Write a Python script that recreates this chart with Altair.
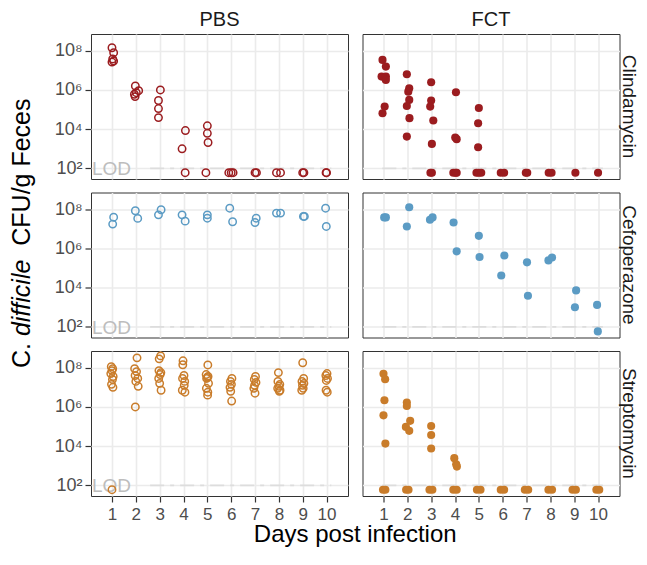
import altair as alt
import pandas as pd

# ---------------- data (log10 CFU/g feces; jittered day positions) ----------------
L = 1.78          # samples below detection are drawn at the floor
LOD_LOG = 2       # limit of detection = 10^2
ABX = ["Clindamycin", "Cefoperazone", "Streptomycin"]
GRP = ["PBS", "FCT"]
COLORS = ["#9B1C1F", "#5B9BC4", "#C97C2A"]
DAYS = [1, 2, 3, 4, 5, 6, 7, 8, 9, 10]

clin_pbs_x = [1.00, 1.07, 1.03, 1.07, 1.00, 1.98, 2.12, 1.94, 1.97, 2.02, 3.03, 2.95, 2.95, 2.95,
              4.08, 3.94, 4.07, 5.00, 5.00, 5.03, 4.94, 5.90, 6.00, 6.08, 7.00, 7.06, 7.90, 8.07,
              9.00, 9.05, 9.98, 10.00]
clin_pbs_y = [8.15, 7.90, 7.58, 7.47, 7.42, 6.20, 5.96, 5.78, 5.66, 5.86, 6.00, 5.46, 5.05, 4.59,
              3.93, 3.00, L, 4.17, 3.79, 3.32, L, L, L, L, L, L, L, L,
              L, L, L, L]

clin_fct_x = [0.96, 1.10, 0.92, 1.10, 1.10, 1.05, 0.96, 1.98, 2.08, 2.04, 2.08, 1.98, 2.09, 1.98,
              3.00, 3.00, 2.96, 3.09, 3.03, 2.97, 3.03, 4.04, 4.01, 4.07, 3.93, 4.03, 4.07,
              5.00, 4.90, 5.00, 5.10, 4.97, 4.97, 5.92, 6.06, 6.97, 7.03, 7.93, 8.05, 9.05, 10.00]
clin_fct_y = [7.53, 7.19, 6.68, 6.68, 6.51, 5.15, 4.81, 6.80, 6.08, 5.91, 5.49, 5.18, 4.56, 3.62,
              6.39, 5.46, 5.15, 4.44, 3.25, L, L, 5.88, 3.57, 3.49, L, L, L,
              5.08, L, L, L, 4.30, 3.08, L, L, L, L, L, L, L, L]

cef_pbs_x = [1.07, 1.03, 1.98, 2.08, 2.95, 3.06, 3.94, 4.07, 5.00, 5.00,
             5.94, 6.06, 7.05, 7.00, 7.90, 8.07, 9.03, 9.07, 9.96, 9.99]
cef_pbs_y = [7.59, 7.24, 7.92, 7.53, 7.71, 7.97, 7.71, 7.39, 7.71, 7.54,
             8.05, 7.36, 7.54, 7.32, 7.80, 7.80, 7.63, 7.63, 8.05, 7.12]

cef_fct_x = [1.03, 1.10, 2.08, 1.98, 2.95, 3.06, 3.94, 4.07, 5.00, 5.03,
             6.07, 5.94, 7.02, 7.06, 7.92, 8.07, 9.08, 9.03, 9.96, 9.99]
cef_fct_y = [7.58, 7.58, 8.10, 7.12, 7.46, 7.58, 7.32, 5.85, 6.64, 5.56,
             5.64, 4.62, 5.29, 3.59, 5.39, 5.54, 3.86, 3.00, 3.12, 1.77]

strep_pbs_x = [0.97, 1.03, 1.00, 0.95, 1.05, 1.02, 0.98, 1.04, 1.00,
               2.05, 1.95, 2.03, 1.97, 2.08, 2.00, 2.10, 1.98,
               3.04, 2.98, 2.97, 3.05, 3.02, 2.96, 3.00, 3.06,
               3.98, 3.97, 4.02, 3.96, 4.05, 4.03, 3.95, 4.06,
               5.02, 4.95, 5.03, 5.00, 4.97, 5.05, 4.96, 5.02, 5.01,
               6.03, 5.97, 6.01, 5.95, 5.98, 6.02,
               7.02, 6.97, 7.04, 6.98, 6.95, 7.00,
               7.98, 7.96, 8.04, 8.00, 7.95, 8.05, 8.02,
               9.00, 9.04, 8.97, 9.05, 8.99, 9.02, 8.96,
               10.02, 9.97, 10.04, 9.99, 9.98, 10.03]
strep_pbs_y = [8.05, 7.95, 7.85, 7.70, 7.55, 7.40, 7.15, 7.00, L,
               8.50, 7.95, 7.80, 7.60, 7.45, 7.30, 7.05, 6.00,
               8.60, 8.45, 7.85, 7.75, 7.65, 7.45, 7.20, 6.85,
               8.35, 8.15, 7.60, 7.45, 7.30, 7.10, 6.85, 6.75,
               8.14, 7.65, 7.55, 7.50, 7.45, 7.20, 6.95, 6.75, 6.60,
               7.45, 7.30, 7.15, 7.00, 6.80, 6.30,
               7.55, 7.40, 7.25, 7.10, 6.95, 6.70,
               7.75, 7.30, 7.15, 7.05, 6.95, 6.85, 6.80,
               8.25, 7.45, 7.30, 7.20, 7.10, 6.95, 6.85,
               7.70, 7.60, 7.45, 7.35, 6.85, 6.75]

strep_fct_x = [1.00, 1.07, 1.04, 1.00, 1.08, 0.98, 1.08, 1.98, 1.98, 2.12, 1.94, 2.08, 1.95, 2.05,
               3.00, 3.00, 3.00, 2.93, 3.05, 3.97, 4.05, 4.08, 3.93, 4.07, 4.92, 5.07,
               5.92, 6.06, 6.93, 7.07, 7.92, 8.07, 8.93, 9.07, 9.93, 10.05]
strep_fct_y = [7.69, 7.41, 6.34, 5.57, 4.13, L, L, 6.22, 6.05, 5.29, 4.98, 4.78, L, L,
               5.03, 4.57, 3.88, L, L, 3.39, 3.08, 2.96, L, L, L, L,
               L, L, L, L, L, L, L, L, L, L]

YTITLE_PARTS = ["C.", "difficile", "CFU/g Feces"]
XTITLE = "Days post infection"

# ---------------- table ----------------
series = [
    ("Clindamycin", "PBS", clin_pbs_x, clin_pbs_y),
    ("Clindamycin", "FCT", clin_fct_x, clin_fct_y),
    ("Cefoperazone", "PBS", cef_pbs_x, cef_pbs_y),
    ("Cefoperazone", "FCT", cef_fct_x, cef_fct_y),
    ("Streptomycin", "PBS", strep_pbs_x, strep_pbs_y),
    ("Streptomycin", "FCT", strep_fct_x, strep_fct_y),
]
rows = []
for abx, grp, xs, ys in series:
    for x, y in zip(xs, ys):
        rows.append({"abx": abx, "grp": grp, "x": x, "y": y, "kind": "pt"})
for abx in ABX:
    for grp in GRP:
        rows.append({"abx": abx, "grp": grp, "x": 0.0, "y": LOD_LOG, "kind": "lod"})
df = pd.DataFrame(rows)

FONT = "Liberation Sans"
W, H = 257, 145
SP_ROW, SP_COL = 13.5, 14.5
XDOM = [0.12, 10.9]
YDOM = [1.46, 8.85]

def px(d):
    return (d - XDOM[0]) / (XDOM[1] - XDOM[0]) * W

xenc = alt.X("x:Q", scale=alt.Scale(domain=XDOM, nice=False, zero=False),
             axis=alt.Axis(values=DAYS, title=None, labelFontSize=17, labelPadding=4, tickSize=6))
yenc = alt.Y("y:Q", scale=alt.Scale(domain=YDOM, nice=False, zero=False),
             axis=alt.Axis(values=[2, 4, 6, 8], title=None, labelFontSize=18, labelPadding=3, tickSize=6,
                           labelExpr="'10' + (datum.value == 2 ? '\u00b2' : datum.value == 4 ? '\u2074' : datum.value == 6 ? '\u2076' : '\u2078')"))
color = alt.Color("abx:N", scale=alt.Scale(domain=ABX, range=COLORS), legend=None)

DASH = [14, 6, 4, 6]
lod_fct = alt.Chart().mark_rule(color="#DDDDDD", strokeWidth=1.6, strokeDash=DASH).encode(
    y=yenc, x=alt.value(px(0.95)), x2=alt.value(px(10.2))
).transform_filter("datum.kind === 'lod' && datum.grp === 'FCT'")
lod_pbs = alt.Chart().mark_rule(color="#DDDDDD", strokeWidth=1.6, strokeDash=DASH).encode(
    y=yenc, x=alt.value(px(2.6)), x2=alt.value(px(10.2))
).transform_filter("datum.kind === 'lod' && datum.grp === 'PBS'")
lod_txt = alt.Chart().mark_text(text="LOD", align="left", baseline="middle", fontSize=19,
                                font=FONT, color="#BDBDBD", dy=1).encode(
    y=yenc, x=alt.value(1)
).transform_filter("datum.kind === 'lod' && datum.grp === 'PBS'")
pbs_pts = alt.Chart().mark_point(shape="circle", filled=False, size=55, strokeWidth=1.5, opacity=1).encode(
    x=xenc, y=yenc, color=color
).transform_filter("datum.kind === 'pt' && datum.grp === 'PBS'")
fct_pts = alt.Chart().mark_circle(size=66, opacity=1).encode(
    x=xenc, y=yenc, color=color
).transform_filter("datum.kind === 'pt' && datum.grp === 'FCT'")

# row strip labels, drawn at the right of the FCT panels
row_lab = alt.Chart().mark_text(angle=90, align="center", baseline="middle", fontSize=19,
                                font=FONT, color="#1A1A1A").encode(
    text="abx:N", x=alt.value(W + 9), y=alt.value(H / 2)
).transform_filter("datum.kind === 'lod' && datum.grp === 'FCT'")

# axis titles: drawn once, as text anchored to one panel (y title: only "difficile" italic)
FS = 25
EM = {"C.": 1.0, "difficile": 3.056, " ": 0.278}
TX = -68.7                     # y-title anchor, relative to left panel edge
Y0 = 175.5                     # start of "C." relative to the middle-row panel top
Y1 = Y0 - FS * (EM["C."] + EM[" "])
Y2 = Y1 - FS * (EM["difficile"] + 2 * EM[" "])
mid_sel = "datum.kind === 'lod' && datum.grp === 'PBS' && datum.abx === 'Cefoperazone'"
bot_sel = "datum.kind === 'lod' && datum.grp === 'PBS' && datum.abx === 'Streptomycin'"

def ypiece(txt, ypos, style):
    return alt.Chart().mark_text(text=txt, angle=270, align="left", baseline="middle", fontSize=FS,
                                 font=FONT, fontStyle=style, color="#000000").encode(
        x=alt.value(TX), y=alt.value(ypos)
    ).transform_filter(mid_sel)

yt0 = ypiece(YTITLE_PARTS[0], Y0, "normal")
yt1 = ypiece(YTITLE_PARTS[1], Y1, "italic")
yt2 = ypiece(YTITLE_PARTS[2], Y2, "normal")
xt = alt.Chart().mark_text(text=XTITLE, align="center", baseline="middle", fontSize=24,
                           font=FONT, color="#000000").encode(
    x=alt.value(W + SP_COL / 2), y=alt.value(H + 39)
).transform_filter(bot_sel)

panel = alt.layer(lod_fct, lod_pbs, lod_txt, pbs_pts, fct_pts, row_lab, yt0, yt1, yt2, xt,
                  data=df).properties(width=W, height=H)

chart = panel.facet(
    row=alt.Row("abx:N", sort=ABX, title=None, header=alt.Header(labels=False)),
    column=alt.Column("grp:N", sort=GRP, title=None,
                      header=alt.Header(labelFontSize=20, labelFont=FONT, labelColor="#1A1A1A",
                                        labelPadding=4)),
    spacing={"row": SP_ROW, "column": SP_COL},
    bounds="flush",
).properties(
    padding={"left": 1, "top": 2, "right": 0, "bottom": 0}
).configure(font=FONT).configure_view(stroke="#333333", strokeWidth=1).configure_axis(
    grid=True, gridColor="#EBEBEB", gridWidth=1.6, domain=False, tickColor="#333333",
    tickWidth=1.2, labelColor="#4D4D4D", labelFont=FONT
)

chart.save("out.html", embed_options={"renderer": "svg", "actions": False})
